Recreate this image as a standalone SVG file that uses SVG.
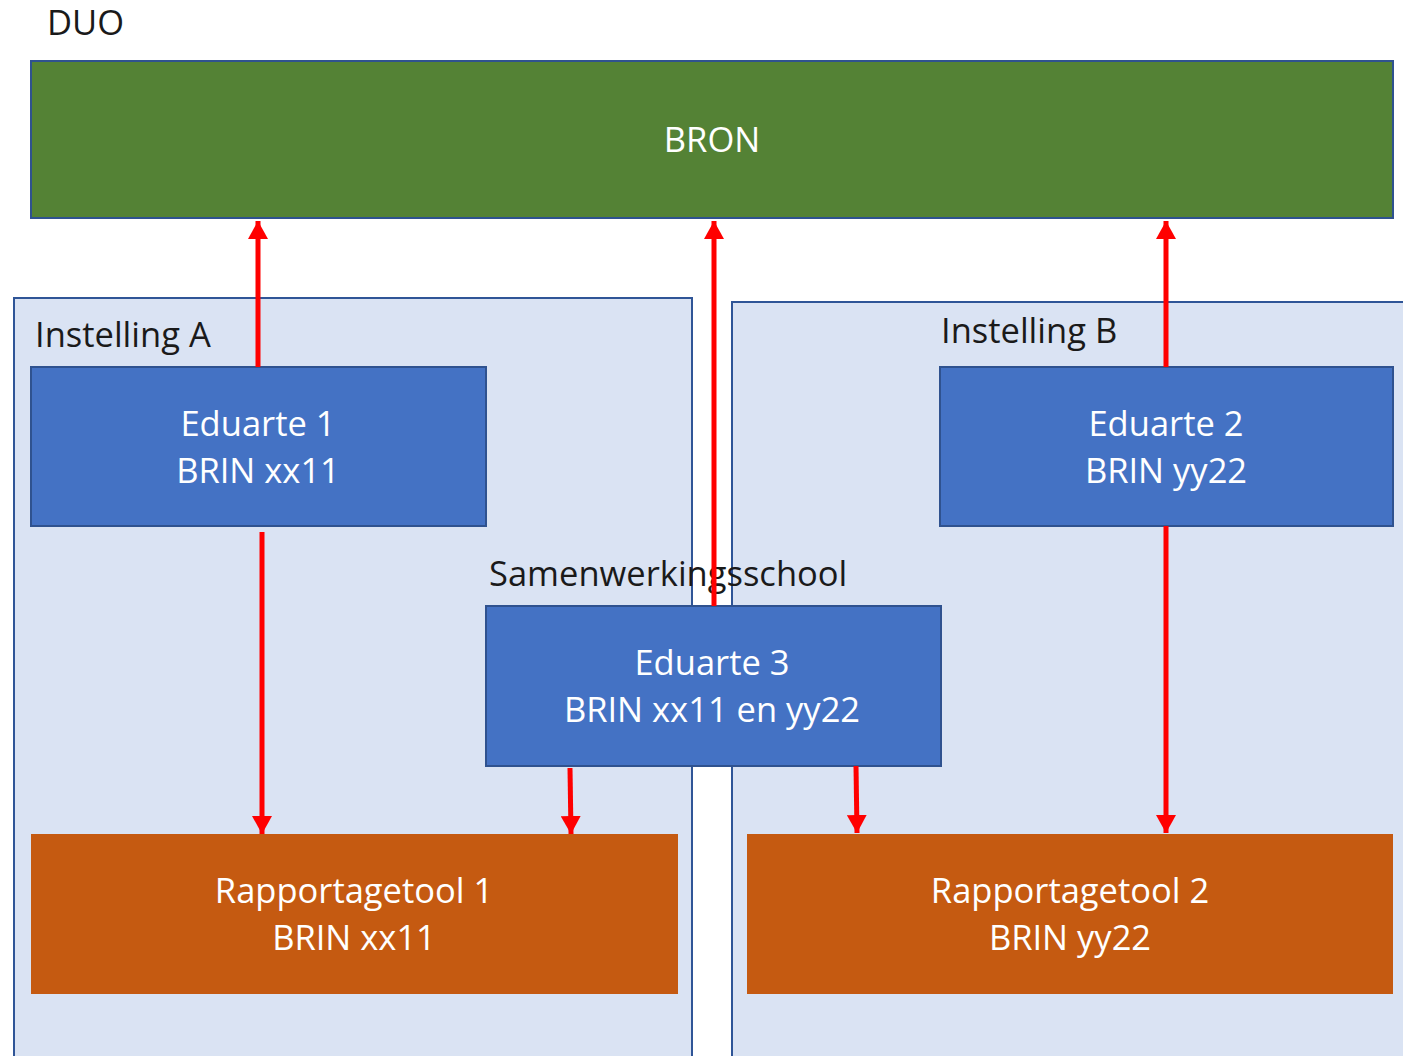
<svg xmlns="http://www.w3.org/2000/svg" width="1403" height="1056" viewBox="0 0 1403 1056">
<style>
text{font-family:"Open Sans","Liberation Sans",Arial,sans-serif;font-size:34.5px}
.lbl{fill:#1a1a1a}
.w{fill:#ffffff;text-anchor:middle}
.cont{fill:#DAE3F3;stroke:#2F5597;stroke-width:2}
.blue{fill:#4472C4;stroke:#2F528F;stroke-width:2}
.green{fill:#548235;stroke:#2F528F;stroke-width:2}
.orange{fill:#C55A11;stroke:none}
.arr{stroke:#FF0000;stroke-width:5;fill:none}
</style>
<defs>
<marker id="ah" markerUnits="userSpaceOnUse" markerWidth="22" markerHeight="20" refX="18" refY="10" orient="auto">
<path d="M0,0 L18,10 L0,20 Z" fill="#FF0000"/>
</marker>
</defs>
<rect width="1403" height="1056" fill="#ffffff"/>
<g id="duo">
<text class="lbl" x="47" y="35">DUO</text>
</g>
<g id="instellingA">
<rect class="cont" x="14" y="298" width="678" height="770"/>
<text class="lbl" x="35" y="347">Instelling A</text>
</g>
<g id="instellingB">
<rect class="cont" x="732" y="302" width="690" height="770"/>
<text class="lbl" x="941" y="343">Instelling B</text>
</g>
<g id="bron">
<rect class="green" x="31" y="61" width="1362" height="157"/>
<text class="w" x="712" y="152">BRON</text>
</g>
<g id="eduarte1">
<rect class="blue" x="31" y="367" width="455" height="159"/>
<text class="w" x="258" y="436">Eduarte 1</text>
<text class="w" x="258" y="483">BRIN xx11</text>
</g>
<g id="eduarte2">
<rect class="blue" x="940" y="367" width="453" height="159"/>
<text class="w" x="1166" y="436">Eduarte 2</text>
<text class="w" x="1166" y="483">BRIN yy22</text>
</g>
<g id="samenwerkingsschool">
<text class="lbl" x="489" y="586">Samenwerkingsschool</text>
</g>
<g id="eduarte3">
<rect class="blue" x="486" y="606" width="455" height="160"/>
<text class="w" x="712" y="675">Eduarte 3</text>
<text class="w" x="712" y="722">BRIN xx11 en yy22</text>
</g>
<g id="rapportagetool1">
<rect class="orange" x="31" y="834" width="647" height="160"/>
<text class="w" x="354" y="903">Rapportagetool 1</text>
<text class="w" x="354" y="950">BRIN xx11</text>
</g>
<g id="rapportagetool2">
<rect class="orange" x="747" y="834" width="646" height="160"/>
<text class="w" x="1070" y="903">Rapportagetool 2</text>
<text class="w" x="1070" y="950">BRIN yy22</text>
</g>
<g id="connectors">
<line class="arr" x1="258" y1="367" x2="258" y2="221" marker-end="url(#ah)"/>
<line class="arr" x1="714" y1="606" x2="714" y2="221" marker-end="url(#ah)"/>
<line class="arr" x1="1166" y1="367" x2="1166" y2="221" marker-end="url(#ah)"/>
<line class="arr" x1="262" y1="532" x2="262" y2="834" marker-end="url(#ah)"/>
<line class="arr" x1="570" y1="768" x2="571" y2="834" marker-end="url(#ah)"/>
<line class="arr" x1="856" y1="766" x2="857" y2="833" marker-end="url(#ah)"/>
<line class="arr" x1="1166" y1="526" x2="1166" y2="833" marker-end="url(#ah)"/>
</g>
</svg>
